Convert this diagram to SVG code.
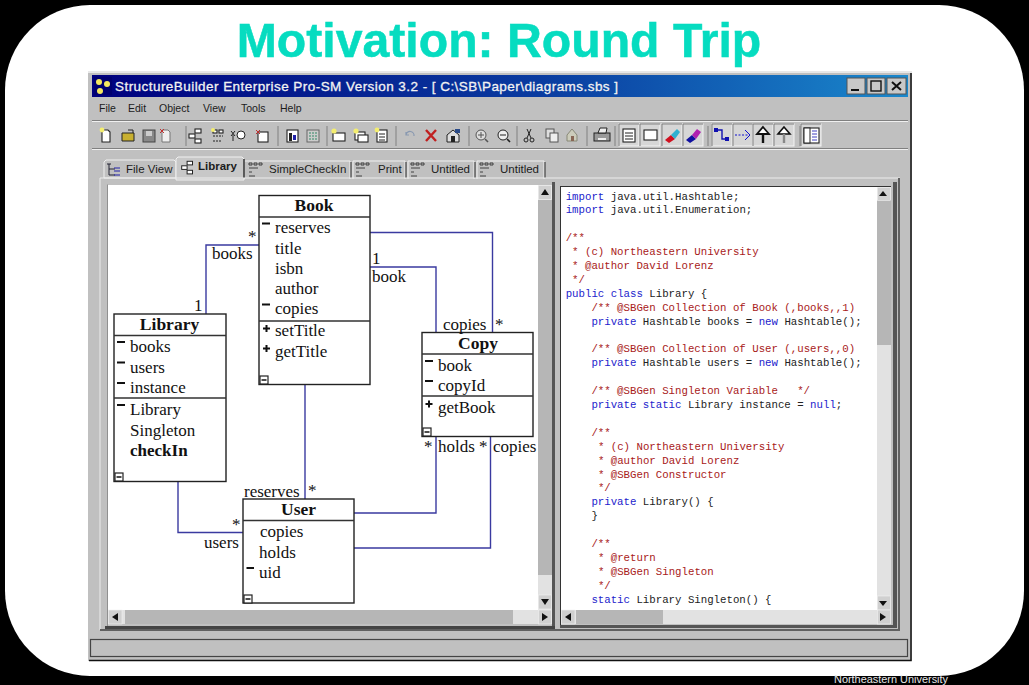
<svg xmlns="http://www.w3.org/2000/svg" width="1029" height="685" viewBox="0 0 1029 685">
<style>
.ui{font-family:"Liberation Sans",Arial,sans-serif;fill:#1c1c1c}
.m{font-size:10.5px}
.tab{font-size:11.5px}
.u{font-family:"Liberation Serif","Times New Roman",serif;font-size:17px;fill:#111}
.h{font-family:"Liberation Serif","Times New Roman",serif;font-size:17.5px;font-weight:bold;fill:#111;text-anchor:middle}
.b{fill:#fff;stroke:#222;stroke-width:1.4}
.l{stroke:#333;stroke-width:1.3;fill:none}
.c{fill:none;stroke:#3a3aa0;stroke-width:1.4}
.code{font-family:"Liberation Mono","Courier New",monospace;font-size:10.72px;fill:#222}
.k{fill:#2222cc}
.r{fill:#a82020}
.p{fill:#c0c0c0}
.t{fill:#e2e2e2}
.th{fill:#b6b6b6}
.sep{stroke:#808080;stroke-width:1}
.hi{stroke:#f0f0f0;stroke-width:1}
.ic{fill:#fff;stroke:#222;stroke-width:1.1}
.ar{fill:#111}
.up{fill:#d0d0d0;stroke:#f0f0f0;stroke-width:.6}
.mk{stroke:#111;stroke-width:2}
</style>
<defs>
<linearGradient id="tbg" x1="0" x2="1" y1="0" y2="0"><stop offset="0" stop-color="#00007e"/><stop offset=".55" stop-color="#0a3ca0"/><stop offset="1" stop-color="#1a88cc"/></linearGradient>
<g id="doc"><path class="ic" d="M-4,-6H2L4,-4V6H-4Z"/><circle cx="-4" cy="-6" r="2.4" fill="#f4ee70"/></g>
<g id="cls"><rect class="ic" x="-1" y="-7" width="6" height="4"/><rect class="ic" x="-7" y="-2" width="6" height="4"/><rect class="ic" x="-1" y="3" width="6" height="4"/></g>
<g id="dash"><rect class="ic" x="-5" y="-6" width="4" height="3"/><rect class="ic" x="1" y="-6" width="4" height="3"/><path d="M-5,0H5M-5,5H3" stroke="#222" stroke-dasharray="2 1" fill="none"/><circle cx="-5" cy="-6" r="2" fill="#f4ee70"/></g>
<g id="box"><rect class="ic" x="-6" y="-3" width="12" height="8"/><circle cx="-5" cy="-5" r="2.6" fill="#f4ee70"/></g>
<g id="btn"><rect x="-10" y="-11" width="20" height="22" fill="#d6d6d6" stroke="#f4f4f4"/><path d="M-10,11V-11H10" stroke="#777" fill="none"/></g>
<g id="coll"><rect x="0" y="0" width="8" height="8" fill="#fff" stroke="#222" stroke-width="1.2"/><path d="M1.5,4H6.5" stroke="#111" stroke-width="1.5"/></g>
</defs>

<rect width="1029" height="685" fill="#000"/>
<rect x="5" y="5" width="1019" height="671" rx="85" ry="85" fill="#fff"/>
<text x="499" y="57" text-anchor="middle" font-family="'Liberation Sans',Arial,sans-serif" font-weight="bold" font-size="48.200" fill="#06dcc0" stroke="#06dcc0" stroke-width=".5">Motivation: Round Trip</text>
<text x="834" y="683" font-family="'Liberation Sans',Arial,sans-serif" font-size="11" fill="#e8e8e8" textLength="114" lengthAdjust="spacingAndGlyphs">Northeastern University</text>

<!-- window -->
<rect x="88" y="72" width="824" height="589" class="p"/>
<path d="M88,72H912" stroke="#e8e8e8" stroke-width="2"/>
<path d="M911,73V660.500H89" stroke="#111" stroke-width="1.500" fill="none"/>
<rect x="92" y="75" width="816" height="22" fill="url(#tbg)"/>
<g id="appicon"><rect x="94" y="77" width="18" height="18" fill="#000070"/><circle cx="99" cy="82" r="3" fill="#f4e860"/><circle cx="107" cy="84" r="3" fill="#f4e860"/><circle cx="100" cy="91" r="3" fill="#f4e860"/></g>
<text x="115" y="91" font-family="'Liberation Sans',Arial,sans-serif" font-size="13.500" fill="#f2f2f2" stroke="#f2f2f2" stroke-width=".3" textLength="503" lengthAdjust="spacing">StructureBuilder Enterprise Pro-SM Version 3.2 - [ C:\SB\Paper\diagrams.sbs ]</text>
<g id="winbtns">
<rect x="847" y="78" width="18" height="16" fill="#c8c8c8" stroke="#555"/><path d="M851,90H859" stroke="#111" stroke-width="2"/>
<rect x="867" y="78" width="18" height="16" fill="#c8c8c8" stroke="#555"/><rect x="871" y="81" width="10" height="10" fill="none" stroke="#111" stroke-width="1.400"/>
<rect x="887" y="78" width="19" height="16" fill="#c8c8c8" stroke="#555"/><path d="M892,82L901,90M901,82L892,90" stroke="#111" stroke-width="2"/>
</g>
<g id="menu" class="ui m">
<text x="99" y="112">File</text><text x="128" y="112">Edit</text><text x="159" y="112">Object</text><text x="203" y="112">View</text><text x="241" y="112">Tools</text><text x="280" y="112">Help</text>
</g>
<path class="sep" d="M92,120.500H908M92,148.500H908"/>
<path class="hi" d="M92,121.500H908M92,149.500H908"/>

<g id="toolbar">
<use href="#doc" x="106" y="136"/>
<g transform="translate(128,136)"><path d="M-6,-3H0L6,-3V5H-6Z" fill="#c8b030" stroke="#222"/><path d="M0,-6L5,-6V-3" stroke="#222" fill="none"/></g>
<g transform="translate(149,136)"><rect x="-6" y="-6" width="12" height="12" fill="#888" stroke="#444"/><rect x="-3" y="-5" width="6" height="5" fill="#ccc"/></g>
<g transform="translate(166,136)"><path d="M-4,-6H2L4,-4V6H-4Z" fill="#eee" stroke="#777"/><path d="M-6,-7L-2,-3M-2,-7L-6,-3" stroke="#c03030"/></g>
<use href="#cls" x="196" y="136"/><use href="#dash" x="218" y="136"/>
<g transform="translate(238,136)"><path d="M-7,-5L-3,0M-3,-5L-7,0M-5,-1V5" stroke="#222" fill="none"/><circle cx="3" cy="-1" r="4" fill="#fff" stroke="#222"/></g>
<g transform="translate(263,136)"><rect class="ic" x="-5" y="-4" width="10" height="10"/><path d="M-7,-6L-3,-2M-3,-6L-7,-2" stroke="#c03030"/></g>
<g transform="translate(292,136)"><rect class="ic" x="-5" y="-6" width="11" height="12"/><rect x="-3" y="-3" width="3" height="8" fill="#222"/><rect x="1" y="-1" width="3" height="5" fill="#2222aa"/></g>
<g transform="translate(313,136)"><rect x="-6" y="-6" width="12" height="12" fill="#ccc" stroke="#666"/><path d="M-4,-3H4M-4,0H4M-4,3H4" stroke="#386" stroke-dasharray="2 1"/></g>
<use href="#box" x="339" y="136"/>
<g transform="translate(361,136)"><rect class="ic" x="-6" y="-4" width="10" height="8"/><rect class="ic" x="-3" y="-1" width="10" height="7"/><circle cx="-5" cy="-5" r="2.6" fill="#f4ee70"/></g>
<g transform="translate(382,136)"><rect class="ic" x="-5" y="-6" width="10" height="12"/><path d="M-3,-2H3M-3,1H3M-3,4H3" stroke="#222"/><circle cx="-5" cy="-6" r="2.4" fill="#f4ee70"/></g>
<path d="M406,135a4,4 0 1 1 8,1M406,132v3h3" stroke="#8898b0" fill="none" stroke-width="1.200"/>
<path d="M426,130L436,141M436,130L426,141" stroke="#c02020" stroke-width="2.400"/>
<g transform="translate(453,136)"><path d="M-6,-1L0,-6L6,-1V6H-6Z" fill="#ddd" stroke="#222"/><rect x="-2" y="0" width="4" height="6" fill="#222"/><rect x="2" y="-7" width="5" height="4" fill="#2a4a88"/></g>
<g transform="translate(481,135)"><circle r="5" fill="#ddd" stroke="#555"/><path d="M-3,0H3M0,-3V3" stroke="#555"/><path d="M4,4L7,7" stroke="#555" stroke-width="1.600"/></g>
<g transform="translate(503,135)"><circle r="5" fill="#eee" stroke="#222"/><path d="M-3,0H3" stroke="#222"/><path d="M4,4L7,7" stroke="#222" stroke-width="1.600"/></g>
<g transform="translate(529,135)" stroke="#222" fill="none"><path d="M-2,-6L2,3M2,-6L-2,3"/><circle cx="-3" cy="5" r="2"/><circle cx="3" cy="5" r="2"/></g>
<g transform="translate(552,135)"><rect x="-6" y="-6" width="8" height="9" fill="#ddd" stroke="#555"/><rect x="-2" y="-2" width="8" height="9" fill="#eee" stroke="#555"/></g>
<g transform="translate(572,135)"><path d="M-5,0L0,-6L5,0V6H-5Z" fill="#ccb" stroke="#887"/><rect x="-1" y="1" width="3" height="5" fill="#865"/></g>
<g transform="translate(602,135)"><rect x="-8" y="-2" width="16" height="8" fill="#999" stroke="#222"/><path d="M-4,-2L-2,-7H5L4,-2Z" fill="#eee" stroke="#222"/><rect x="-4" y="3" width="8" height="2" fill="#eee"/></g>
<use href="#btn" x="629" y="135"/><rect class="ic" x="623" y="129" width="12" height="13"/><path d="M625,133H633M625,136H633M625,139H633" stroke="#222"/>
<use href="#btn" x="650" y="135"/><rect class="ic" x="644" y="130" width="13" height="10"/>
<use href="#btn" x="672" y="135"/><path d="M665,140L671,135L675,139L669,143Z" fill="#d01020"/><path d="M671,135L677,129L680,132L675,139Z" fill="#30b0d0"/>
<use href="#btn" x="693" y="135"/><path d="M686,140L692,135L696,139L690,143Z" fill="#1010a0"/><path d="M692,135L697,129L701,132L696,139Z" fill="#b020b0"/>
<use href="#btn" x="722" y="135"/><path d="M716,130H722V139H727" stroke="#1010b0" stroke-width="1.400" fill="none"/><rect x="714" y="128" width="4" height="4" fill="#1010b0"/><rect x="725" y="137" width="4" height="4" fill="#1010b0"/>
<use href="#btn" x="743" y="135"/><path d="M735,135H748" stroke="#1010d0" stroke-dasharray="2 1.500"/><path d="M745,130L750,135L745,140" stroke="#1010d0" fill="none"/>
<use href="#btn" x="763" y="135"/><path d="M763,127L769,134H757Z" fill="#fff" stroke="#111" stroke-width="1.800"/><path d="M763,134V143" stroke="#111" stroke-width="2.400"/>
<use href="#btn" x="784" y="135"/><path d="M784,127L790,134H778Z" fill="#fff" stroke="#111" stroke-width="1.600"/><path d="M784,134V143" stroke="#888" stroke-width="2.400"/>
<use href="#btn" x="811" y="135"/><rect class="ic" x="804" y="128" width="15" height="15"/><rect x="804" y="128" width="6" height="15" fill="#fff" stroke="#222"/><path d="M812,131H817M812,134H817M812,137H817M812,140H817" stroke="#4040c0"/>
<path class="sep" d="M186,126V146M278,126V146M327,126V146M396,126V146M469,126V146M517,126V146M587,126V146M615,126V146M708,126V146M800,126V146"/>
</g>

<g id="tabs">
<path d="M104,178V162L106,160H174L176,162V178Z" class="p" stroke="#f0f0f0"/>
<path d="M244,179V161H350V179M353,179V161H405V179M408,179V161H474V179M477,179V161H544V179" fill="#c0c0c0" stroke="#f0f0f0"/>
<path d="M351,162V178M406,162V178M475,162V178M545,162V178" stroke="#444" stroke-width="1.200"/>
<path d="M176,180V159L178,157H242L244,159V180Z" fill="#c8c8c8" stroke="#f0f0f0"/>
<path d="M244,159V178" stroke="#222" stroke-width="1.400"/>
<g class="ui tab">
<text x="126" y="173">File View</text>
<text x="198" y="170" font-weight="bold">Library</text>
<text x="269" y="173">SimpleCheckIn</text>
<text x="378" y="173">Print</text>
<text x="431" y="173">Untitled</text>
<text x="500" y="173">Untitled</text>
</g>
<g id="tabicons">
<path d="M107,164H111M109,164V175H115M109,169H115" stroke="#223" fill="none"/><path d="M114,168H120M114,171H120M114,175H120" stroke="#22a"/>
<use href="#cls" x="188" y="168" transform="translate(18.800,16.400) scale(.9)"/>
<g stroke="#333" fill="none" stroke-width=".9">
<path id="td" d="M249,165h3v-2h-3zM254,165h3v-2h-3zM259,165h3v-2h-3zM249,168h9M249,172h3M249,176h6"/>
<use href="#td" x="107"/><use href="#td" x="162"/><use href="#td" x="231"/>
</g>
</g>
</g>

<g id="pane">
<path d="M100,178H900" stroke="#ececec"/>
<path d="M100,178V630" stroke="#ececec"/>
<path d="M899,178V630H100" fill="none" stroke="#606060" stroke-width="2"/>
<path d="M107.500,626V184.500" stroke="#909090"/>
<rect x="108" y="185" width="430" height="425" fill="#fff"/>
<path d="M553.500,182V628" stroke="#555" stroke-width="3"/>
<rect x="561" y="187" width="316" height="423" fill="#fff"/>
<path d="M561,186.500H891M560.500,186V626" stroke="#333"/>
<path d="M895,182V628" stroke="#555" stroke-width="4"/>
<path d="M560,626.500H895" stroke="#555" stroke-width="3"/>
<path d="M105,627.500H555" stroke="#444" stroke-width="3"/>
</g>

<g id="scrollbars">
<rect x="538" y="185" width="14" height="425" class="t"/>
<rect x="538" y="200" width="14" height="375" class="th"/>
<rect class="up" x="538.500" y="185.500" width="13" height="14"/><path class="ar" d="M545,189L549,195H541Z"/>
<rect x="538.500" y="595" width="13" height="14" class="up"/><path class="ar" d="M545,605L549,599H541Z"/>
<rect x="108" y="610" width="444" height="14" class="t"/>
<rect x="125" y="610" width="388" height="14" class="th"/>
<rect x="108.500" y="610" width="13.500" height="14" class="up"/><path class="ar" d="M112,617L118,613V621Z"/>
<rect x="538.500" y="610" width="13" height="14" class="up"/><path class="ar" d="M548,617L542,613V621Z"/>
<rect x="877" y="187" width="14" height="423" class="t"/>
<rect x="877" y="200" width="14" height="145" class="th"/>
<rect class="up" x="877.500" y="187.500" width="13" height="13"/><path class="ar" d="M883,191L887,196H879Z"/>
<rect class="up" x="877.500" y="596" width="13" height="14"/><path class="ar" d="M883,606L887,601H879Z"/>
<rect x="561" y="610" width="330" height="14" class="t"/>
<rect x="576" y="610" width="87" height="14" class="th"/>
<rect class="up" x="561.500" y="610" width="13.500" height="14"/><path class="ar" d="M565,617L571,613V621Z"/>
<rect class="up" x="877.500" y="610" width="13" height="14"/><path class="ar" d="M886,617L880,613V621Z"/>
</g>

<rect id="status" x="90.500" y="639.500" width="817" height="17" fill="#c0c0c0" stroke="#444" stroke-width="1.200"/>

<g id="connectors">
<path class="c" d="M206,314V245H259"/>
<path class="c" d="M370,232.500H492.500V333"/>
<path class="c" d="M370,267H436V333"/>
<path class="c" d="M305,384V499"/>
<path class="c" d="M178,481V532.500H243"/>
<path class="c" d="M354,513H436V436"/>
<path class="c" d="M354,548H490.500V436"/>
</g>

<g id="node-book">
<rect class="b" x="259" y="195.500" width="111" height="189"/>
<path class="l" d="M259,217H370M259,321H370"/>
<text class="h" x="314" y="211">Book</text>
<text class="u" x="275" y="233">reserves</text><text class="u" x="275" y="253.500">title</text><text class="u" x="275" y="273.500">isbn</text><text class="u" x="275" y="294">author</text><text class="u" x="275" y="314">copies</text>
<text class="u" x="275" y="336">setTitle</text><text class="u" x="275" y="356.500">getTitle</text>
<path class="mk" d="M262,223.500H270M262,304.500H270M263,328.500H270M266.500,325V332M263,348.500H270M266.500,345V352"/>
<use href="#coll" x="260" y="376"/>
</g>
<g id="node-library">
<rect class="b" x="114" y="314" width="112" height="167.500"/>
<path class="l" d="M114,335.500H226M114,398H226"/>
<text class="h" x="169.500" y="330">Library</text>
<text class="u" x="130" y="352">books</text><text class="u" x="130" y="372.500">users</text><text class="u" x="130" y="392.500">instance</text>
<text class="u" x="130" y="415">Library</text><text class="u" x="130" y="435.500">Singleton</text><text class="u" x="130" y="455.500" font-weight="bold">checkIn</text>
<path class="mk" d="M117,342H125M117,362.500H125M117,383H125M117,405H125"/>
<use href="#coll" x="115" y="473"/>
</g>
<g id="node-user">
<rect class="b" x="243" y="499" width="111" height="104"/>
<path class="l" d="M243,520.500H354"/>
<text class="h" x="298.500" y="515">User</text>
<text class="u" x="260" y="537">copies</text><text class="u" x="259" y="557.500">holds</text><text class="u" x="259" y="577.500">uid</text>
<path class="mk" d="M246.500,568H254"/>
<use href="#coll" x="244" y="595"/>
</g>
<g id="node-copy">
<rect class="b" x="422" y="332.500" width="111" height="104"/>
<path class="l" d="M422,354H533M422,396H533"/>
<text class="h" x="478" y="348.500">Copy</text>
<text class="u" x="438" y="370.500">book</text><text class="u" x="438" y="391">copyId</text><text class="u" x="438" y="413">getBook</text>
<path class="mk" d="M425,361H433M425,381H433M425.500,404H432.500M429,400.500V407.500"/>
<use href="#coll" x="423" y="428"/>
</g>
<g id="connector-labels">
<text x="248" y="241.500" class="u">*</text><text x="212" y="259" class="u">books</text><text x="194" y="311" class="u">1</text>
<text x="372" y="264" class="u">1</text><text x="372" y="282" class="u">book</text>
<text x="443" y="330" class="u">copies</text><text x="495" y="329.500" class="u">*</text>
<text x="244" y="497" class="u">reserves</text><text x="308" y="496" class="u">*</text>
<text x="232" y="529.500" class="u">*</text><text x="204" y="548" class="u">users</text>
<text x="424" y="452" class="u">*</text><text x="438" y="452" class="u">holds</text><text x="479" y="452" class="u">*</text><text x="493" y="452" class="u">copies</text>
</g>

<g id="code" class="code">
<text x="565.700" y="199.500"><tspan class="k">import</tspan> java.util.Hashtable;</text>
<text x="565.700" y="213.400"><tspan class="k">import</tspan> java.util.Enumeration;</text>
<text x="565.700" y="241.200" class="r">/**</text>
<text x="572.100" y="255.100" class="r">* (c) Northeastern University</text>
<text x="572.100" y="269" class="r">* @author David Lorenz</text>
<text x="572.100" y="282.900" class="r">*/</text>
<text x="565.700" y="296.800"><tspan class="k">public class</tspan> Library {</text>
<text x="591.400" y="310.700" class="r">/** @SBGen Collection of Book (,books,,1)</text>
<text x="591.400" y="324.600"><tspan class="k">private</tspan> Hashtable books = <tspan class="k">new</tspan> Hashtable();</text>
<text x="591.400" y="352.400" class="r">/** @SBGen Collection of User (,users,,0)</text>
<text x="591.400" y="366.300"><tspan class="k">private</tspan> Hashtable users = <tspan class="k">new</tspan> Hashtable();</text>
<text x="591.400" y="394.100" class="r">/** @SBGen Singleton Variable<tspan x="797.200">*/</tspan></text>
<text x="591.400" y="408"><tspan class="k">private static</tspan> Library instance = <tspan class="k">null</tspan>;</text>
<text x="591.400" y="435.800" class="r">/**</text>
<text x="597.900" y="449.700" class="r">* (c) Northeastern University</text>
<text x="597.900" y="463.600" class="r">* @author David Lorenz</text>
<text x="597.900" y="477.500" class="r">* @SBGen Constructor</text>
<text x="597.900" y="491.400" class="r">*/</text>
<text x="591.400" y="505.300"><tspan class="k">private</tspan> Library() {</text>
<text x="591.400" y="519.200">}</text>
<text x="591.400" y="547" class="r">/**</text>
<text x="597.900" y="560.900" class="r">* @return</text>
<text x="597.900" y="574.800" class="r">* @SBGen Singleton</text>
<text x="597.900" y="588.700" class="r">*/</text>
<text x="591.400" y="602.600"><tspan class="k">static</tspan> Library Singleton() {</text>
</g>
</svg>
